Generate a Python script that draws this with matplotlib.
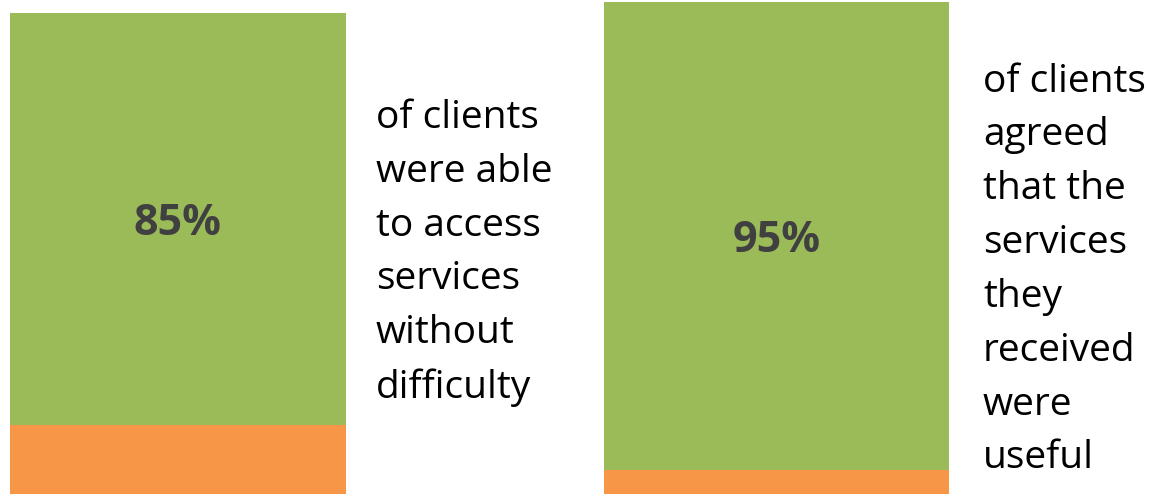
import matplotlib.pyplot as plt

# share of clients agreeing / not agreeing, one bar per question
agree = [85, 95]
rest = [15, 5]
value_labels = ["85%", "95%"]
captions = [
    "of clients\nwere able\nto access\nservices\nwithout\ndifficulty",
    "of clients\nagreed\nthat the\nservices\nthey\nreceived\nwere\nuseful",
]

GREEN = "#9BBB59"
ORANGE = "#F79646"

W, H = 1155, 494
fig = plt.figure(figsize=(W / 100, H / 100), dpi=100)
plt.rcParams["font.family"] = ["Open Sans", "DejaVu Sans"]

# pixel boxes for each bar: left, right, top, bottom
bar_boxes = [(10, 346, 13, 497.7), (604, 949, 2, 494.6)]
# caption anchor (left x, centre y) in pixels
caption_pos = [(376, 253), (983, 270)]


def px_axes(left, right, top, bottom):
    return fig.add_axes([left / W, (H - bottom) / H, (right - left) / W, (bottom - top) / H])


for i in range(2):
    ax = px_axes(*bar_boxes[i])
    ax.bar(0, rest[i], width=1, color=ORANGE)
    ax.bar(0, agree[i], bottom=rest[i], width=1, color=GREEN)
    ax.set_xlim(-0.5, 0.5)
    ax.set_ylim(0, agree[i] + rest[i])
    ax.axis("off")
    ax.text(0, rest[i] + agree[i] / 2, value_labels[i], ha="center", va="center_baseline",
            fontsize=31, fontweight="bold", color="#404040")

    x, y = caption_pos[i]
    fig.text(x / W, (H - y) / H, captions[i], ha="left", va="center",
             fontsize=28, color="black", linespacing=1.545)

fig.savefig("out.png", dpi=100)
